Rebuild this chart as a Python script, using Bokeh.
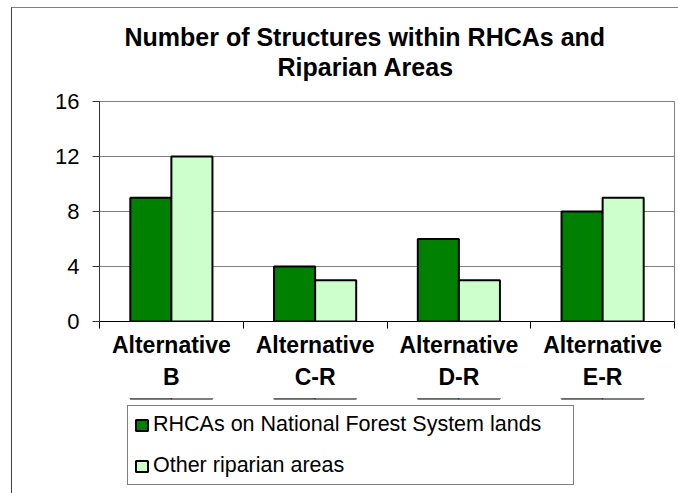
from bokeh.plotting import figure
from bokeh.layouts import column
from bokeh.models import (FactorRange, Range1d, FixedTicker, LinearAxis, CategoricalAxis,
                          ColumnDataSource, Legend, LegendItem, Title)
from bokeh.transform import dodge
from bokeh.embed import file_html
from bokeh.resources import INLINE

# ---- data ----
label_line1 = ["Alternative", "Alternative", "Alternative", "Alternative"]
label_line2 = ["B", "C-R", "D-R", "E-R"]
rhca_values = [9, 4, 6, 8]
other_values = [12, 3, 3, 9]
y_ticks = [0, 4, 8, 12, 16]
series_names = ["RHCAs on National Forest System lands", "Other riparian areas"]
title_line1 = "Number of Structures within RHCAs and"
title_line2 = "Riparian Areas"

# nested factors: (group label shown on 2nd line, sub label shown on 1st line)
factors = list(zip(label_line2, label_line1))
source = ColumnDataSource(dict(cat=factors, rhca=rhca_values, other=other_values))

FONT = "Liberation Sans"
BAR_W = 1 / 3.5
GREEN = "#008000"
LIGHT = "#CCFFCC"

xr = FactorRange(factors=factors, range_padding=0, group_padding=0,
                 factor_padding=0, subgroup_padding=0)

p = figure(width=666, height=390, x_range=xr, y_range=Range1d(0, 16),
           output_backend="svg", toolbar_location=None,
           x_axis_location=None, y_axis_location="left", title_location=None,
           min_border_left=87, min_border_right=4, min_border_top=93, min_border_bottom=77)

p.outline_line_color = "#808080"
p.outline_line_width = 1
p.xgrid.visible = False
p.ygrid.ticker = FixedTicker(ticks=y_ticks)
p.ygrid.grid_line_color = "#808080"
p.ygrid.grid_line_width = 1

# bars
p.vbar(x=dodge("cat", -BAR_W / 2, range=xr), top="rhca", width=BAR_W,
       source=source, fill_color=GREEN, line_color="black", line_width=2)
p.vbar(x=dodge("cat", BAR_W / 2, range=xr), top="other", width=BAR_W,
       source=source, fill_color=LIGHT, line_color="black", line_width=2)

# y axis
ya = p.yaxis[0]
ya.ticker = FixedTicker(ticks=y_ticks)
ya.major_tick_in = 0
ya.major_tick_out = 7
ya.minor_tick_in = 0
ya.minor_tick_out = 0
ya.axis_line_color = "#333333"
ya.major_tick_line_color = "#333333"
ya.major_label_text_font = FONT
ya.major_label_text_font_size = "22px"
ya.major_label_text_color = "black"
ya.major_label_standoff = 13

# tick-only axis: ticks between categories (synthetic factor coordinates 0..n)
tick_axis = LinearAxis(ticker=FixedTicker(ticks=list(range(len(factors) + 1))),
                       major_tick_in=0, major_tick_out=7, minor_tick_in=0, minor_tick_out=0,
                       major_label_standoff=0, major_label_text_font_size="1px",
                       major_label_text_color=None,
                       axis_line_color="black", major_tick_line_color="black")
p.add_layout(tick_axis, "below")

cat_axis = CategoricalAxis(axis_line_color=None, major_tick_line_color=None,
                           major_tick_in=0, major_tick_out=0, separator_line_color=None,
                           major_label_text_font=FONT, major_label_text_font_size="23px",
                           major_label_text_font_style="bold", major_label_text_color="black",
                           group_text_font=FONT, group_text_font_size="23px",
                           group_text_font_style="bold", group_text_color="black",
                           major_label_standoff=3)
p.add_layout(cat_axis, "below")

# title: spacer + two centred lines
spacer = Title(text=" ", text_font_size="1px", standoff=18, text_color="white")
t2 = Title(text=title_line2, align="left", offset=178, standoff=0,
           text_font=FONT, text_font_style="bold", text_font_size="25px", text_color="black")
t1 = Title(text=title_line1, align="left", offset=25, standoff=0,
           text_font=FONT, text_font_style="bold", text_font_size="25px", text_color="black")
p.add_layout(spacer, "above")
p.add_layout(t2, "above")
p.add_layout(t1, "above")

# legend strip under the chart (swatches use the same series styling)
pl = figure(width=666, height=95, x_range=xr, y_range=Range1d(-20, -10),
            output_backend="svg", toolbar_location=None,
            x_axis_location=None, y_axis_location=None, title_location=None,
            min_border=0, outline_line_color=None)
pl.grid.visible = False
lr1 = pl.vbar(x=dodge("cat", -BAR_W / 2, range=xr), top="rhca", width=BAR_W,
              source=source, fill_color=GREEN, line_color="black", line_width=2)
lr2 = pl.vbar(x=dodge("cat", BAR_W / 2, range=xr), top="other", width=BAR_W,
              source=source, fill_color=LIGHT, line_color="black", line_width=2)
legend = Legend(items=[LegendItem(label=series_names[0], renderers=[lr1]),
                       LegendItem(label=series_names[1], renderers=[lr2])],
                location=(28, 8), orientation="vertical",
                border_line_color="black", border_line_width=1,
                padding=6, spacing=16, margin=0,
                label_height=24, glyph_height=14, glyph_width=15, label_standoff=4,
                label_width=414, label_text_font=FONT, label_text_font_size="21.5px",
                label_text_color="black", background_fill_color="white", background_fill_alpha=1)
pl.add_layout(legend, "center")

layout = column(p, pl, spacing=0,
                styles={"margin-left": "11px", "margin-top": "7px",
                        "border-left": "1px solid #404040", "border-top": "1px solid #808080"})

open("out.html", "w").write(file_html(layout, INLINE))
